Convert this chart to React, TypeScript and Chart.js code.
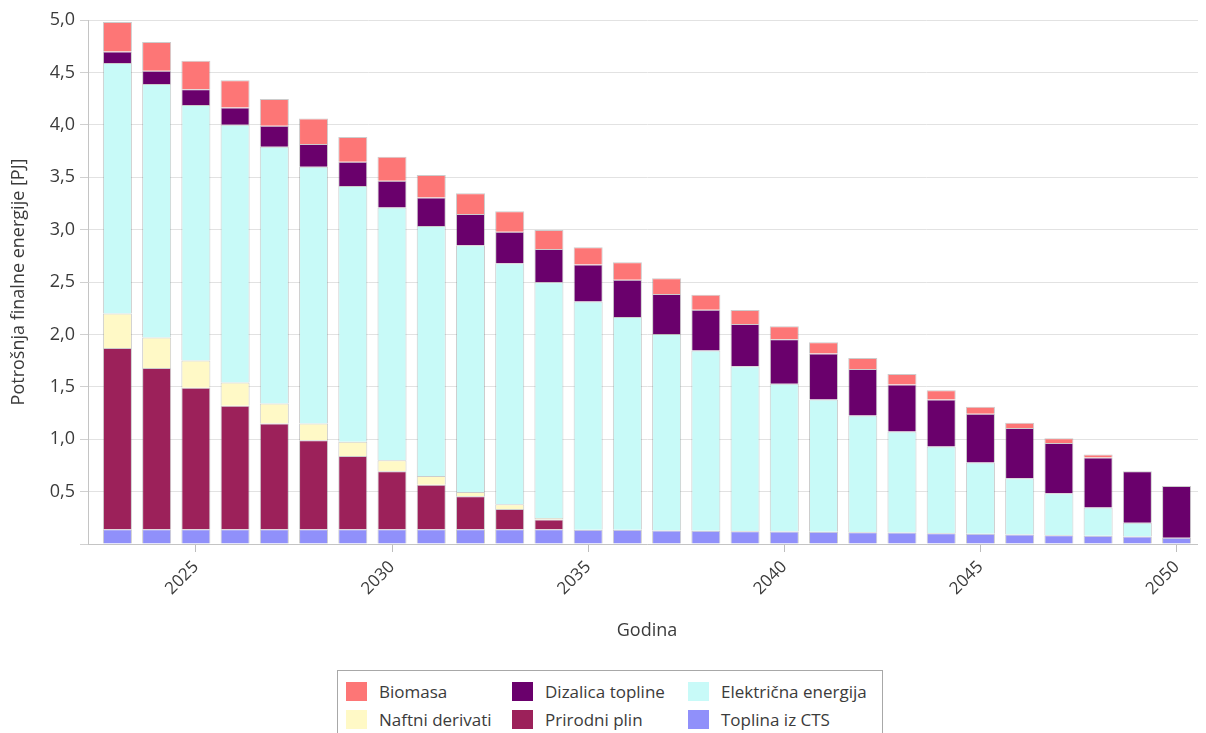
import React, { useEffect, useRef } from "react";
import { Chart, registerables } from "chart.js";

Chart.register(...registerables);

const years = [
  2023, 2024, 2025, 2026, 2027, 2028, 2029, 2030, 2031, 2032, 2033, 2034, 2035, 2036,
  2037, 2038, 2039, 2040, 2041, 2042, 2043, 2044, 2045, 2046, 2047, 2048, 2049, 2050,
];

const xTickYears = [2025, 2030, 2035, 2040, 2045, 2050];

const toplinaCTS = [
  0.14, 0.14, 0.14, 0.14, 0.14, 0.14, 0.14, 0.14, 0.14, 0.14, 0.14, 0.14, 0.135, 0.135,
  0.13, 0.126, 0.122, 0.12, 0.116, 0.113, 0.11, 0.103, 0.097, 0.091, 0.084, 0.078, 0.072, 0.06,
];
const prirodniPlin = [
  1.73, 1.54, 1.35, 1.18, 1.01, 0.85, 0.7, 0.555, 0.425, 0.316, 0.195, 0.093, 0, 0,
  0, 0, 0, 0, 0, 0, 0, 0, 0, 0, 0, 0, 0, 0,
];
const naftniDerivati = [
  0.33, 0.29, 0.26, 0.22, 0.19, 0.16, 0.135, 0.105, 0.083, 0.041, 0.045, 0.015, 0, 0,
  0, 0, 0, 0, 0, 0, 0, 0, 0, 0, 0, 0, 0, 0,
];
const elektricnaEnergija = [
  2.39, 2.42, 2.44, 2.46, 2.45, 2.45, 2.44, 2.41, 2.387, 2.353, 2.3, 2.25, 2.18, 2.03,
  1.875, 1.72, 1.573, 1.41, 1.264, 1.114, 0.964, 0.828, 0.681, 0.537, 0.401, 0.271, 0.13, 0,
];
const dizalicaTopline = [
  0.11, 0.126, 0.15, 0.166, 0.2, 0.216, 0.232, 0.255, 0.272, 0.3, 0.3, 0.316, 0.351, 0.357,
  0.38, 0.39, 0.404, 0.423, 0.437, 0.443, 0.449, 0.449, 0.465, 0.478, 0.478, 0.477, 0.493, 0.493,
];
const biomasa = [
  0.28, 0.274, 0.27, 0.258, 0.255, 0.244, 0.236, 0.23, 0.215, 0.198, 0.195, 0.181, 0.165, 0.167,
  0.15, 0.143, 0.134, 0.124, 0.108, 0.105, 0.099, 0.086, 0.067, 0.052, 0.045, 0.029, 0, 0,
];

const seriesNames = {
  biomasa: "Biomasa",
  dizalica: "Dizalica topline",
  elektricna: "Električna energija",
  naftni: "Naftni derivati",
  plin: "Prirodni plin",
  toplina: "Toplina iz CTS",
};

const colors = {
  biomasa: "#FD7676",
  dizalica: "#6A006C",
  elektricna: "#C8FAF8",
  naftni: "#FFF9C6",
  plin: "#9C215A",
  toplina: "#9090FA",
};

const FONT = "'Open Sans', 'Noto Sans', sans-serif";
const TEXT = "#3b3b3b";

function toPoints(values: number[]) {
  return years.map((y, i) => ({ x: y, y: values[i] === 0 ? null : values[i] }));
}

export default function App() {
  const canvasRef = useRef<HTMLCanvasElement | null>(null);

  useEffect(() => {
    if (!canvasRef.current) return;
    const mk = (label: string, values: number[], color: string) => ({
      label,
      data: toPoints(values),
      backgroundColor: color,
      borderColor: "rgba(110,110,110,0.35)",
      borderWidth: 1,
      barPercentage: 0.74,
      categoryPercentage: 1,
    });
    const chart = new Chart(canvasRef.current, {
      type: "bar",
      data: {
        datasets: [
          mk(seriesNames.toplina, toplinaCTS, colors.toplina),
          mk(seriesNames.plin, prirodniPlin, colors.plin),
          mk(seriesNames.naftni, naftniDerivati, colors.naftni),
          mk(seriesNames.elektricna, elektricnaEnergija, colors.elektricna),
          mk(seriesNames.dizalica, dizalicaTopline, colors.dizalica),
          mk(seriesNames.biomasa, biomasa, colors.biomasa),
        ] as any,
      },
      options: {
        animation: false,
        responsive: false,
        maintainAspectRatio: false,
        layout: { padding: { top: 0, right: 0, bottom: 0, left: 0 } },
        plugins: {
          legend: { display: false },
          tooltip: { enabled: false },
        },
        scales: {
          x: {
            type: "linear",
            stacked: true,
            offset: false,
            bounds: "data",
            min: 2022.25,
            max: 2050.75,
            afterBuildTicks: (scale: any) => {
              scale.ticks = xTickYears.map((v) => ({ value: v }));
            },
            afterFit: (scale: any) => {
              scale.height = 100;
            },
            grid: {
              offset: false,
              drawOnChartArea: false,
              drawTicks: true,
              tickLength: 8,
              tickColor: "#bdbdbd",
            },
            border: { display: true, color: "#c4c4c4", width: 1 },
            ticks: {
              autoSkip: false,
              minRotation: 45,
              maxRotation: 45,
              padding: 5,
              color: TEXT,
              font: { family: FONT, size: 17 },
              callback: (v: any) => String(v),
            },
            title: {
              display: true,
              text: "Godina",
              color: TEXT,
              font: { family: FONT, size: 18 },
              padding: { top: 4, bottom: 2 },
            },
          },
          y: {
            type: "linear",
            stacked: true,
            min: 0,
            max: 5,
            afterFit: (scale: any) => {
              scale.width = 80;
              scale.paddingTop = 12;
              scale.paddingBottom = 0;
            },
            grid: {
              color: "#e2e2e2",
              tickLength: 8,
              tickColor: "#d0d0d0",
            },
            border: { display: true, color: "#c4c4c4", width: 1 },
            ticks: {
              stepSize: 0.5,
              padding: 5,
              color: TEXT,
              font: { family: FONT, size: 18 },
              callback: (v: any) => (Number(v) === 0 ? "" : Number(v).toFixed(1).replace(".", ",")),
            },
            title: {
              display: true,
              text: "Potrošnja finalne energije [PJ]",
              color: TEXT,
              font: { family: FONT, size: 18 },
              padding: { top: 0, bottom: 4 },
            },
          },
        },
      } as any,
    });
    return () => chart.destroy();
  }, []);

  const legendRows: [string, string][][] = [
    [
      [seriesNames.biomasa, colors.biomasa],
      [seriesNames.dizalica, colors.dizalica],
      [seriesNames.elektricna, colors.elektricna],
    ],
    [
      [seriesNames.naftni, colors.naftni],
      [seriesNames.plin, colors.plin],
      [seriesNames.toplina, colors.toplina],
    ],
  ];
  const colWidths = [166, 176, 190];

  return (
    <div style={{ width: 1198 }}>
      <canvas ref={canvasRef} width={1198} height={636} style={{ display: "block", width: 1198, height: 636 }} />
      <div
        style={{
          marginTop: 26,
          marginLeft: 329,
          width: 546,
          height: 66,
          border: "1px solid #a8a8a8",
          boxSizing: "border-box",
          padding: "6px 0 0 8px",
          fontFamily: FONT,
          fontSize: 17,
          color: TEXT,
          background: "#fff",
        }}
      >
        {legendRows.map((row, ri) => (
          <div key={ri} style={{ display: "flex", height: 28, alignItems: "center" }}>
            {row.map(([name, color], ci) => (
              <div key={ci} style={{ width: colWidths[ci], display: "flex", alignItems: "center" }}>
                <span
                  style={{
                    display: "inline-block",
                    width: 21,
                    height: 19,
                    background: color,
                    marginRight: 12,
                    flex: "none",
                  }}
                />
                <span style={{ whiteSpace: "nowrap" }}>{name}</span>
              </div>
            ))}
          </div>
        ))}
      </div>
    </div>
  );
}
